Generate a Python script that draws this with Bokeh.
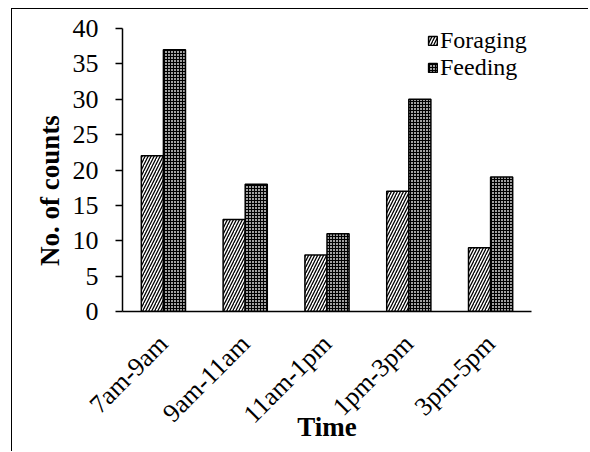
import math
from bokeh.plotting import figure
from bokeh.models import ColumnDataSource, Label, Legend, LegendItem
from bokeh.transform import dodge
from bokeh.embed import file_html
from bokeh.resources import INLINE

categories = ["7am-9am", "9am-11am", "11am-1pm", "1pm-3pm", "3pm-5pm"]
foraging = [22, 13, 8, 17, 9]
feeding = [37, 18, 11, 30, 19]
y_ticks = [0, 5, 10, 15, 20, 25, 30, 35, 40]
series_names = ["Foraging", "Feeding"]

src = ColumnDataSource(dict(cat=categories, foraging=foraging, feeding=feeding))

FONT = "Liberation Serif"

p = figure(x_range=categories, y_range=(0, 40), width=577, height=443,
           output_backend="svg", toolbar_location=None,
           min_border_left=110, min_border_right=58, min_border_top=19, min_border_bottom=141)
p.styles = {"border-left": "1.5px solid black", "border-top": "1.5px solid black",
            "margin-left": "11px", "margin-top": "8px"}
p.outline_line_color = None
p.grid.grid_line_color = None
p.x_range.range_padding = 0.0

r1 = p.vbar(x=dodge("cat", -0.135, range=p.x_range), top="foraging", width=0.27, source=src,
            line_color="black", line_width=1.5,
            fill_color="white", hatch_pattern="/", hatch_color="black", hatch_scale=6, hatch_weight=1.3)
r2 = p.vbar(x=dodge("cat", 0.135, range=p.x_range), top="feeding", width=0.27, source=src,
            line_color="black", line_width=1.5,
            fill_color="#a0a0a0", hatch_pattern="+", hatch_color="black", hatch_scale=3, hatch_weight=1)

legend = Legend(items=[LegendItem(label=series_names[0], renderers=[r1]),
                       LegendItem(label=series_names[1], renderers=[r2])],
                location=(305, 230))
legend.label_text_font = FONT
legend.label_text_font_size = "24px"
legend.label_text_color = "black"
legend.glyph_width = 11
legend.glyph_height = 11
legend.label_standoff = 2
legend.spacing = -3
legend.padding = 0
legend.label_height = 24
legend.border_line_color = None
legend.background_fill_alpha = 0
p.add_layout(legend)

# y-axis title
p.add_layout(Label(x=10, y=121, x_units="screen", y_units="screen", text="No. of counts",
                   angle=math.pi / 2, text_font=FONT, text_font_size="27px",
                   text_font_style="bold", text_color="black",
                   text_align="center", text_baseline="middle"), "left")

p.yaxis.ticker = y_ticks
p.yaxis.axis_line_color = "black"
p.yaxis.axis_line_width = 1.5
p.yaxis.major_tick_line_width = 1.5
p.yaxis.major_tick_in = 0
p.yaxis.major_tick_out = 7
p.yaxis.minor_tick_line_color = None
p.yaxis.major_label_text_font = FONT
p.yaxis.major_label_text_font_size = "26px"
p.yaxis.major_label_text_color = "black"
p.yaxis.major_label_standoff = 17

p.xaxis.axis_line_color = "black"
p.xaxis.axis_line_width = 1.5
p.xaxis.major_tick_line_color = None
p.xaxis.major_label_orientation = 0.785398
p.xaxis.major_label_text_font = FONT
p.xaxis.major_label_text_font_size = "26px"
p.xaxis.major_label_text_color = "black"
p.xaxis.major_label_standoff = 22
p.xaxis.axis_label = "Time"
p.xaxis.axis_label_text_font = FONT
p.xaxis.axis_label_text_font_style = "bold"
p.xaxis.axis_label_text_font_size = "27px"
p.xaxis.axis_label_text_color = "black"
p.xaxis.axis_label_standoff = -30

open("out.html", "w").write(file_html(p, INLINE))
